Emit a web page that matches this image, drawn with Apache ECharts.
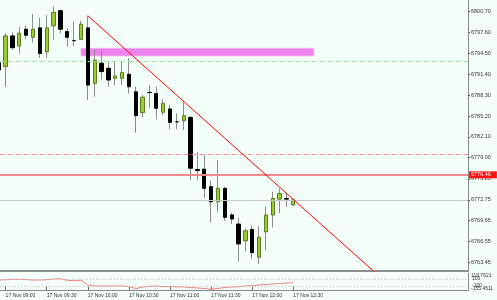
<!DOCTYPE html>
<html><head><meta charset="utf-8">
<script src="https://cdn.jsdelivr.net/npm/echarts@6/dist/echarts.min.js"></script>
<style>html,body{margin:0;padding:0;background:#F5FFFA}#c{width:497px;height:300px}</style>
</head><body><div id="c"></div>
<script>
// ---- data (M5 candles, 17 Nov) ----
const dateText = '17 Nov';
const times  = ['08:55','09:00','09:05','09:10','09:15','09:20','09:25','09:30','09:35','09:40','09:45','09:50','09:55',
                '10:00','10:05','10:10','10:15','10:20','10:25','10:30','10:35','10:40','10:45','10:50','10:55',
                '11:00','11:05','11:10','11:15','11:20','11:25','11:30','11:35','11:40','11:45','11:50','11:55',
                '12:00','12:05','12:10','12:15','12:20','12:25','12:30'];
const opens  = [6793.10,6792.55,6797.10,6795.60,6798.10,6796.90,6798.30,6794.75,6798.60,6800.85,6797.75,6796.40,6796.60,
                6798.30,6790.05,6793.05,6792.30,6790.80,6790.80,6791.40,6788.80,6785.70,6788.70,6788.55,6785.75,
                6786.25,6784.35,6784.50,6785.00,6777.25,6777.30,6774.70,6772.45,6774.45,6770.50,6769.15,6766.65,
                6768.35,6764.20,6768.00,6770.50,6772.85,6772.95,6772.00];
const highs  = [6793.50,6797.50,6797.65,6798.45,6798.60,6800.35,6799.85,6800.20,6801.45,6801.05,6798.25,6799.25,6799.35,
                6800.10,6795.00,6795.10,6793.25,6793.25,6793.40,6793.80,6789.55,6788.30,6789.80,6789.55,6787.70,
                6786.85,6785.60,6787.25,6785.15,6779.85,6779.40,6775.60,6778.65,6774.65,6770.80,6770.15,6768.50,
                6768.95,6768.85,6771.75,6773.95,6774.45,6773.80,6772.95];
const lows   = [6791.60,6789.50,6795.10,6794.50,6796.60,6796.10,6793.80,6793.80,6796.60,6797.50,6795.50,6795.60,6796.50,
                6787.60,6788.05,6790.65,6789.55,6789.80,6789.80,6788.55,6782.70,6785.00,6786.35,6784.70,6785.35,
                6783.25,6783.25,6783.10,6775.70,6775.70,6773.00,6769.35,6770.85,6769.65,6769.15,6763.55,6765.05,
                6764.00,6763.20,6765.20,6768.65,6770.75,6771.70,6771.85];
const closes = [6792.05,6797.10,6795.35,6797.50,6797.20,6798.10,6794.50,6798.30,6800.60,6798.10,6796.90,6796.40,6798.85,
                6789.80,6793.50,6791.80,6790.55,6791.15,6791.65,6789.55,6785.25,6788.00,6788.70,6786.35,6787.10,
                6784.25,6784.35,6785.25,6777.45,6777.10,6774.45,6772.45,6774.45,6770.15,6769.90,6766.20,6768.15,
                6764.90,6767.20,6770.50,6772.95,6773.70,6772.85,6772.75];
const oscValues = [71.4,77.1,91.4,91.4,82.9,71.4,71.4,77.1,100.0,108.6,62.9,51.4,62.9,
                -71.4,-100.0,-100.0,-100.0,-100.0,-100.0,-114.3,-177.1,-128.6,-108.6,-100.0,-120.0,
                -120.0,-122.9,-128.6,-142.9,-157.1,-171.4,-194.3,-171.4,-142.9,-128.6,-122.9,-100.0,
                -91.4,-71.4,-57.1,-42.9,-28.6,-14.3,-5.7];
const priceTicks = [6800.70,6797.60,6794.50,6791.40,6788.30,6785.20,6782.10,6779.00,6775.85,6772.75,6769.65,6766.55,6763.45];
const priceMin = 6762.17, priceMax = 6802.44;
const oscMin = -228.6, oscMax = 271.4;
const oscLabelValues = [119.7621, -155.4511];
const oscLabelTexts  = ['119.7621','-155.4511'];
const oscLevels = [100, -100];
const bidPrice = 6772.75;
const hLinePrice = 6776.46;
const redDashPrice = 6779.56;
const greenDashPrice = 6793.37;
const rectTimes = ['09:55','12:45'];
const rectPrices = [6795.26, 6794.12];
const trendTimes = ['10:00','13:30'];
const trendPrices = [6800.10, 6761.88];
// visible time window, in 5-minute slots since 08:30
const slotMin = 5.1825, slotMax = 73.5;

function slot(t){ const p=t.split(':'); return ((+p[0])*60+(+p[1])-510)/5; }
function slotLabel(v){ const m=Math.round(510+v*5); const h=Math.floor(m/60), mm=m%60; return dateText+' '+String(h).padStart(2,'0')+':'+String(mm).padStart(2,'0'); }
const xTickValues = times.filter(t=>t.endsWith(':00')||t.endsWith(':30')).map(slot);

const wickData = times.map((t,i)=>[slot(t),opens[i],closes[i],lows[i],highs[i]]);
const bodyData = times.map((t,i)=>[slot(t),opens[i],closes[i],Math.min(opens[i],closes[i]),Math.max(opens[i],closes[i])]);
const oscData = times.map((t,i)=>[slot(t),oscValues[i]]);

const FONT = 'Liberation Sans';
const axisGray = '#8a8a8a';
const dashDot = [4,1.5,1,1.5];

const chart = echarts.init(document.getElementById('c'), null, {renderer:'canvas'});
chart.setOption({
  animation:false,
  backgroundColor:'#F5FFFA',
  grid:[
    {left:0, right:29, top:0, height:271},
    {left:0, right:29, top:273, height:17.5}
  ],
  xAxis:[
    {type:'value', gridIndex:0, min:slotMin, max:slotMax, axisLine:{show:true,onZero:false,lineStyle:{color:'#6a6a6a',width:1.5}},
     axisTick:{show:false}, axisLabel:{show:false}, splitLine:{show:false}},
    {type:'value', gridIndex:1, min:slotMin, max:slotMax, axisLine:{show:true,onZero:false,lineStyle:{color:axisGray,width:1}},
     axisTick:{show:true,inside:true,length:4,customValues:xTickValues,lineStyle:{color:'#707070'}},
     axisLabel:{show:true,customValues:xTickValues,formatter:v=>slotLabel(v),align:'left',margin:3,
       fontSize:5,fontFamily:FONT,color:'#333'}, splitLine:{show:false}}
  ],
  yAxis:[
    {type:'value', gridIndex:0, position:'right', min:priceMin, max:priceMax, scale:true,
     axisLine:{show:true,onZero:false,lineStyle:{color:axisGray,width:1}},
     axisTick:{show:true,length:2,customValues:priceTicks,lineStyle:{color:'#555'}},
     axisLabel:{show:true,customValues:priceTicks,showMinLabel:true,showMaxLabel:true,formatter:v=>v.toFixed(2),margin:3,fontSize:5.5,fontFamily:FONT,color:'#333'},
     splitLine:{show:false}},
    {type:'value', gridIndex:1, position:'right', min:oscMin, max:oscMax,
     axisLine:{show:true,onZero:false,lineStyle:{color:axisGray,width:1}},
     axisTick:{show:false},
     axisLabel:{show:true,customValues:oscLabelValues,showMinLabel:true,showMaxLabel:true,hideOverlap:false,
       formatter:v=>{const k=oscLabelValues.indexOf(v); if(k<0) return '';
         return (v>0?'{up|':'{dn|')+oscLabelTexts[k]+'}';},
       rich:{up:{fontSize:5,fontFamily:FONT,color:'#333',padding:[0,0,5.5,0]},
             dn:{fontSize:5,fontFamily:FONT,color:'#333',padding:[1.4,0,0,0]}},
       margin:3,fontSize:5,fontFamily:FONT,color:'#333'},
     splitLine:{show:false}}
  ],
  series:[
    {type:'line', xAxisIndex:0, yAxisIndex:0, data:[], z:1, silent:true,
     markArea:{silent:true, itemStyle:{color:'#EE82EE',borderColor:'#f3b5f3',borderWidth:0.8},
       data:[[{coord:[slot(rectTimes[0]),rectPrices[0]]},{coord:[slot(rectTimes[1]),rectPrices[1]]}]]},
     markLine:{silent:true, symbol:'none', label:{show:false},
       data:[
         {yAxis:greenDashPrice, lineStyle:{color:'#90EE90',width:1,type:dashDot}},
         {yAxis:redDashPrice, lineStyle:{color:'#ff8c8c',width:1,type:dashDot}},
         {yAxis:bidPrice, lineStyle:{color:'#c8c8c8',width:1,type:'solid'}}
       ]}},
    {type:'candlestick', xAxisIndex:0, yAxisIndex:0, layout:'horizontal', data:wickData, encode:{x:0,y:[1,2,3,4]},
     barWidth:1, z:2, silent:true,
     itemStyle:{color:'#8c8c8c',color0:'#8c8c8c',borderColor:'#8c8c8c',borderColor0:'#8c8c8c',borderColorDoji:'#8c8c8c',borderWidth:1}},
    {type:'candlestick', xAxisIndex:0, yAxisIndex:0, layout:'horizontal', data:bodyData, encode:{x:0,y:[1,2,3,4]},
     barWidth:3.8, z:3, silent:true,
     itemStyle:{color:'#9ACD32',color0:'#000000',borderColor:'#5b7d1e',borderColor0:'#000000',borderColorDoji:'#000000',borderWidth:1}},
    {type:'line', xAxisIndex:0, yAxisIndex:0, data:[], z:4, silent:true,
     markLine:{silent:true, symbol:'none',
       data:[
         {yAxis:hLinePrice, lineStyle:{color:'#f08a8a',width:2,type:'solid'},
          label:{show:true,position:'end',distance:1,formatter:p=>p.value.toFixed(2),color:'#fff',backgroundColor:'#ff1010',
                 padding:[1,6,0,2],fontSize:5.5,fontFamily:FONT}},
         {yAxis:bidPrice, lineStyle:{opacity:0},
          label:{show:true,position:'end',distance:1,formatter:p=>p.value.toFixed(2),color:'#fff',backgroundColor:'#000',
                 padding:[1,6,0,2],fontSize:5.5,fontFamily:FONT}}
       ]}},
    {type:'line', xAxisIndex:0, yAxisIndex:0, z:5, silent:true, clip:true, symbol:'none',
     data:trendTimes.map((t,i)=>[slot(t),trendPrices[i]]), lineStyle:{color:'#ff0000',width:1}},
    {type:'line', xAxisIndex:1, yAxisIndex:1, z:3, silent:true, symbol:'none', clip:true, data:oscData,
     lineStyle:{color:'#f08080',width:1},
     markLine:{silent:true, symbol:'none',
       label:{show:true,position:'end',distance:4,formatter:p=>String(p.value),fontSize:5,fontFamily:FONT,color:'#333'},
       data:oscLevels.map(v=>({yAxis:v, lineStyle:{color:'#c0c0c0',width:1,type:[1,2]}}))}}
  ]
});
</script></body></html>
